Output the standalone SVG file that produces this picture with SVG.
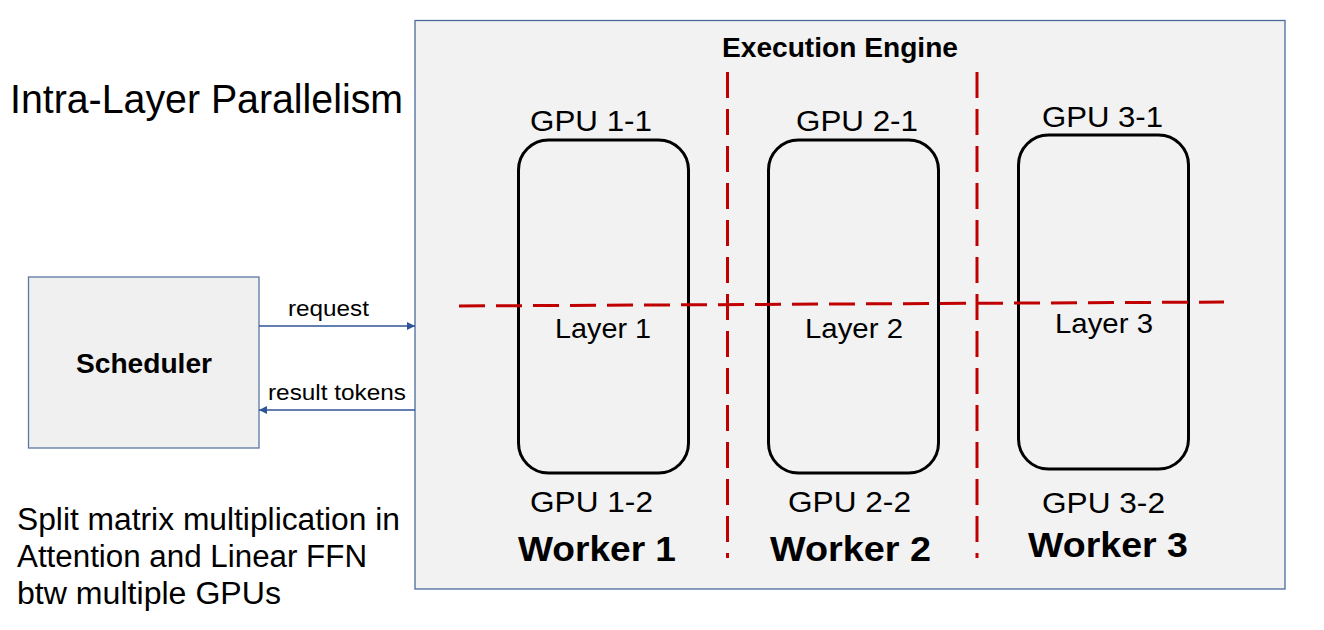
<svg xmlns="http://www.w3.org/2000/svg" width="1324" height="630" viewBox="0 0 1324 630">
<defs>
<marker id="arr" viewBox="0 0 10 10" refX="10" refY="5" markerWidth="9" markerHeight="8" markerUnits="userSpaceOnUse" orient="auto">
<path d="M0,0 L10,5 L0,10 z" fill="#2f5597"/>
</marker>
</defs>
<style>
text{font-family:"Liberation Sans",Arial,sans-serif;fill:#000}
.b{font-weight:bold}
.gpu{font-size:30px}
.lay{font-size:28px}
.wk{font-size:35px;font-weight:bold}
.gpurect{fill:none;stroke:#000;stroke-width:3}
.red{stroke:#c00000;stroke-width:3;stroke-dasharray:26 11;fill:none}
.conn{stroke:#2f5597;stroke-width:1.3;fill:none}
</style>
<rect width="1324" height="630" fill="#fff"/>
<g id="title">
<text x="10" y="113" font-size="40" textLength="393" lengthAdjust="spacingAndGlyphs">Intra-Layer Parallelism</text>
</g>
<g id="note">
<text x="17" y="530" font-size="31" textLength="383" lengthAdjust="spacingAndGlyphs">Split matrix multiplication in</text>
<text x="17" y="567" font-size="31" textLength="350" lengthAdjust="spacingAndGlyphs">Attention and Linear FFN</text>
<text x="17" y="604" font-size="31" textLength="264" lengthAdjust="spacingAndGlyphs">btw multiple GPUs</text>
</g>
<g id="engine">
<rect x="415" y="20.5" width="870" height="568.5" fill="#f2f2f2" stroke="#4a6b9c" stroke-width="1.3"/>
<text class="b" x="722" y="57" font-size="27" textLength="236" lengthAdjust="spacingAndGlyphs">Execution Engine</text>
</g>
<g id="scheduler">
<rect x="28.5" y="277" width="230.5" height="171" fill="#f0f0f0" stroke="#5a78a4" stroke-width="1.3"/>
<text class="b" x="76" y="373" font-size="27" textLength="136" lengthAdjust="spacingAndGlyphs">Scheduler</text>
</g>
<g id="worker1">
<rect class="gpurect" x="518.5" y="140" width="170" height="333" rx="30"/>
<text class="gpu" x="530" y="131" textLength="122" lengthAdjust="spacingAndGlyphs">GPU 1-1</text>
<text class="lay" x="555" y="338" textLength="96" lengthAdjust="spacingAndGlyphs">Layer 1</text>
<text class="gpu" x="530" y="512" textLength="123" lengthAdjust="spacingAndGlyphs">GPU 1-2</text>
<text class="wk" x="518" y="561" textLength="158" lengthAdjust="spacingAndGlyphs">Worker 1</text>
</g>
<g id="worker2">
<rect class="gpurect" x="768.5" y="140" width="170" height="333" rx="30"/>
<text class="gpu" x="796" y="131" textLength="122" lengthAdjust="spacingAndGlyphs">GPU 2-1</text>
<text class="lay" x="805" y="338" textLength="98" lengthAdjust="spacingAndGlyphs">Layer 2</text>
<text class="gpu" x="788" y="512" textLength="123" lengthAdjust="spacingAndGlyphs">GPU 2-2</text>
<text class="wk" x="770" y="561" textLength="161" lengthAdjust="spacingAndGlyphs">Worker 2</text>
</g>
<g id="worker3">
<rect class="gpurect" x="1018.5" y="135" width="170" height="334" rx="30"/>
<text class="gpu" x="1042" y="127" textLength="121" lengthAdjust="spacingAndGlyphs">GPU 3-1</text>
<text class="lay" x="1055" y="333" textLength="98" lengthAdjust="spacingAndGlyphs">Layer 3</text>
<text class="gpu" x="1042" y="513" textLength="123" lengthAdjust="spacingAndGlyphs">GPU 3-2</text>
<text class="wk" x="1028" y="557" textLength="160" lengthAdjust="spacingAndGlyphs">Worker 3</text>
</g>
<g id="partitions">
<line class="red" x1="727.5" y1="72" x2="727.5" y2="558"/>
<line class="red" x1="977" y1="72" x2="977" y2="558"/>
<line class="red" x1="459" y1="306" x2="1224" y2="302"/>
</g>
<g id="connectors">
<line class="conn" x1="259" y1="326" x2="415" y2="326" marker-end="url(#arr)"/>
<line class="conn" x1="415" y1="410" x2="259" y2="410" marker-end="url(#arr)"/>
<text x="288" y="316" font-size="22" textLength="81" lengthAdjust="spacingAndGlyphs">request</text>
<text x="268" y="400" font-size="22" textLength="138" lengthAdjust="spacingAndGlyphs">result tokens</text>
</g>
</svg>
